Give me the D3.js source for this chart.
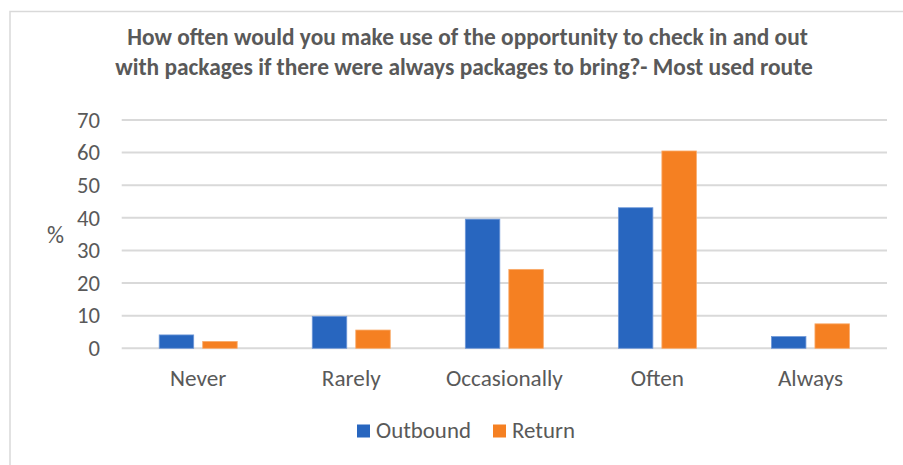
<!DOCTYPE html>
<html>
<head>
<meta charset="utf-8">
<script src="https://cdn.jsdelivr.net/npm/d3@7"></script>
<style>
  body { margin: 0; background: #fff; }
  text { font-family: Carlito, Calibri, "Open Sans", sans-serif; fill: #595959; }
</style>
</head>
<body>
<div id="chart"></div>
<script>
// data
var categories = ['Never', 'Rarely', 'Occasionally', 'Often', 'Always'];
var seriesNames = ['Outbound', 'Return'];
var outbound = [4.1, 9.8, 39.6, 43.1, 3.6];
var returnVals = [2.1, 5.6, 24.2, 60.5, 7.5];
var yTicks = [0, 10, 20, 30, 40, 50, 60, 70];
var titleLines = ['How often would you make use of the opportunity to check in and out',
                  'with packages if there were always packages to bring?- Most used route'];
var colors = ['#2866bf', '#f58022'];

var W = 903, H = 465;
var plotLeft = 121.7, plotRight = 887, plotTop = 120, plotBottom = 348.3;
var FONT = 'Carlito, Calibri, "Open Sans", sans-serif';

var svg = d3.select('#chart').append('svg')
    .attr('width', W).attr('height', H);

svg.append('rect').attr('width', W).attr('height', H).attr('fill', '#fff');

// chart frame (runs off the right and bottom edges)
svg.append('rect')
    .attr('x', 10).attr('y', 11.5)
    .attr('width', 1000).attr('height', 1000)
    .attr('fill', 'none').attr('stroke', '#d9d9d9').attr('stroke-width', 1.5);

// font size that makes one text the width
function fitSize(node, target) {
    var w = node.getComputedTextLength();
    var fs = parseFloat(d3.select(node).attr('font-size'));
    return w > 0 ? fs * target / w : fs;
}

// title
var titleWidths = [681, 698];
var titleX = [467.5, 464];
svg.selectAll('.title').data(titleLines).enter().append('text')
    .attr('class', 'title')
    .attr('x', function(d, i) { return titleX[i]; })
    .attr('y', function(d, i) { return 45 + i * 30; })
    .attr('text-anchor', 'middle')
    .attr('font-weight', 'bold')
    .attr('font-size', 20)
    .text(function(d) { return d; })
    .each(function(d, i) { d3.select(this).attr('font-size', fitSize(this, titleWidths[i])); });

var x0 = d3.scaleBand().domain(categories).range([plotLeft, plotRight]);
var x1 = d3.scaleBand().domain(seriesNames).range([37.5, 115.5]).paddingInner(0.207);
var y = d3.scaleLinear().domain([0, 70]).range([plotBottom, plotTop]);

// gridlines
svg.append('g').selectAll('line').data(yTicks).enter().append('line')
    .attr('x1', plotLeft).attr('x2', plotRight)
    .attr('y1', function(d) { return y(d); })
    .attr('y2', function(d) { return y(d); })
    .attr('stroke', '#d9d9d9').attr('stroke-width', 2);

// y axis labels
var yAxis = svg.append('g')
    .attr('transform', 'translate(' + plotLeft + ',0)')
    .call(d3.axisLeft(y).tickValues(yTicks).tickSize(0).tickPadding(21.7));
yAxis.select('.domain').remove();
var yText = yAxis.selectAll('text')
    .attr('font-size', 19)
    .style('font-family', FONT)
    .attr('fill', '#595959');
var ySize = fitSize(yText.filter(function(d) { return d === 70; }).node(), 23);
yText.attr('font-size', ySize);

var pct = svg.append('text')
    .attr('x', 55.5).attr('y', 243)
    .attr('text-anchor', 'middle')
    .attr('font-size', 20)
    .text('%');
pct.attr('font-size', fitSize(pct.node(), 17));

// bars
var rows = categories.map(function(c, i) {
    return { cat: c, vals: [{ s: 'Outbound', v: outbound[i] }, { s: 'Return', v: returnVals[i] }] };
});

var groups = svg.append('g').selectAll('g').data(rows).enter().append('g')
    .attr('transform', function(d) { return 'translate(' + x0(d.cat) + ',0)'; });

groups.selectAll('rect').data(function(d) { return d.vals; }).enter().append('rect')
    .attr('x', function(d) { return x1(d.s); })
    .attr('width', x1.bandwidth())
    .attr('y', function(d) { return y(d.v); })
    .attr('height', function(d) { return y(0) - y(d.v); })
    .attr('fill', function(d, i) { return colors[i]; })
    .attr('stroke', function(d, i) { return i === 0 ? '#6f98d8' : '#f9aa6a'; })
    .attr('stroke-width', 0.8);

// category labels, one size for all, fitted on "Occasionally"
var xAxis = svg.append('g')
    .attr('transform', 'translate(0,' + plotBottom + ')')
    .call(d3.axisBottom(x0).tickSize(0).tickPadding(21));
xAxis.select('.domain').remove();
var xText = xAxis.selectAll('text')
    .attr('font-size', 19)
    .style('font-family', FONT)
    .attr('fill', '#595959');
var xSize = fitSize(xText.filter(function(d) { return d === 'Occasionally'; }).node(), 117);
xText.attr('font-size', xSize);

// legend
var legendX = [357, 493];
var legend = svg.append('g').selectAll('g').data(seriesNames).enter().append('g');
legend.append('rect')
    .attr('x', function(d, i) { return legendX[i]; })
    .attr('y', 424.5).attr('width', 13).attr('height', 13)
    .attr('fill', function(d, i) { return colors[i]; });
var lText = legend.append('text')
    .attr('x', function(d, i) { return legendX[i] + 19; })
    .attr('y', 438)
    .attr('font-size', 19)
    .text(function(d) { return d; });
lText.attr('font-size', fitSize(lText.filter(function(d) { return d === 'Outbound'; }).node(), 95));
</script>
</body>
</html>
